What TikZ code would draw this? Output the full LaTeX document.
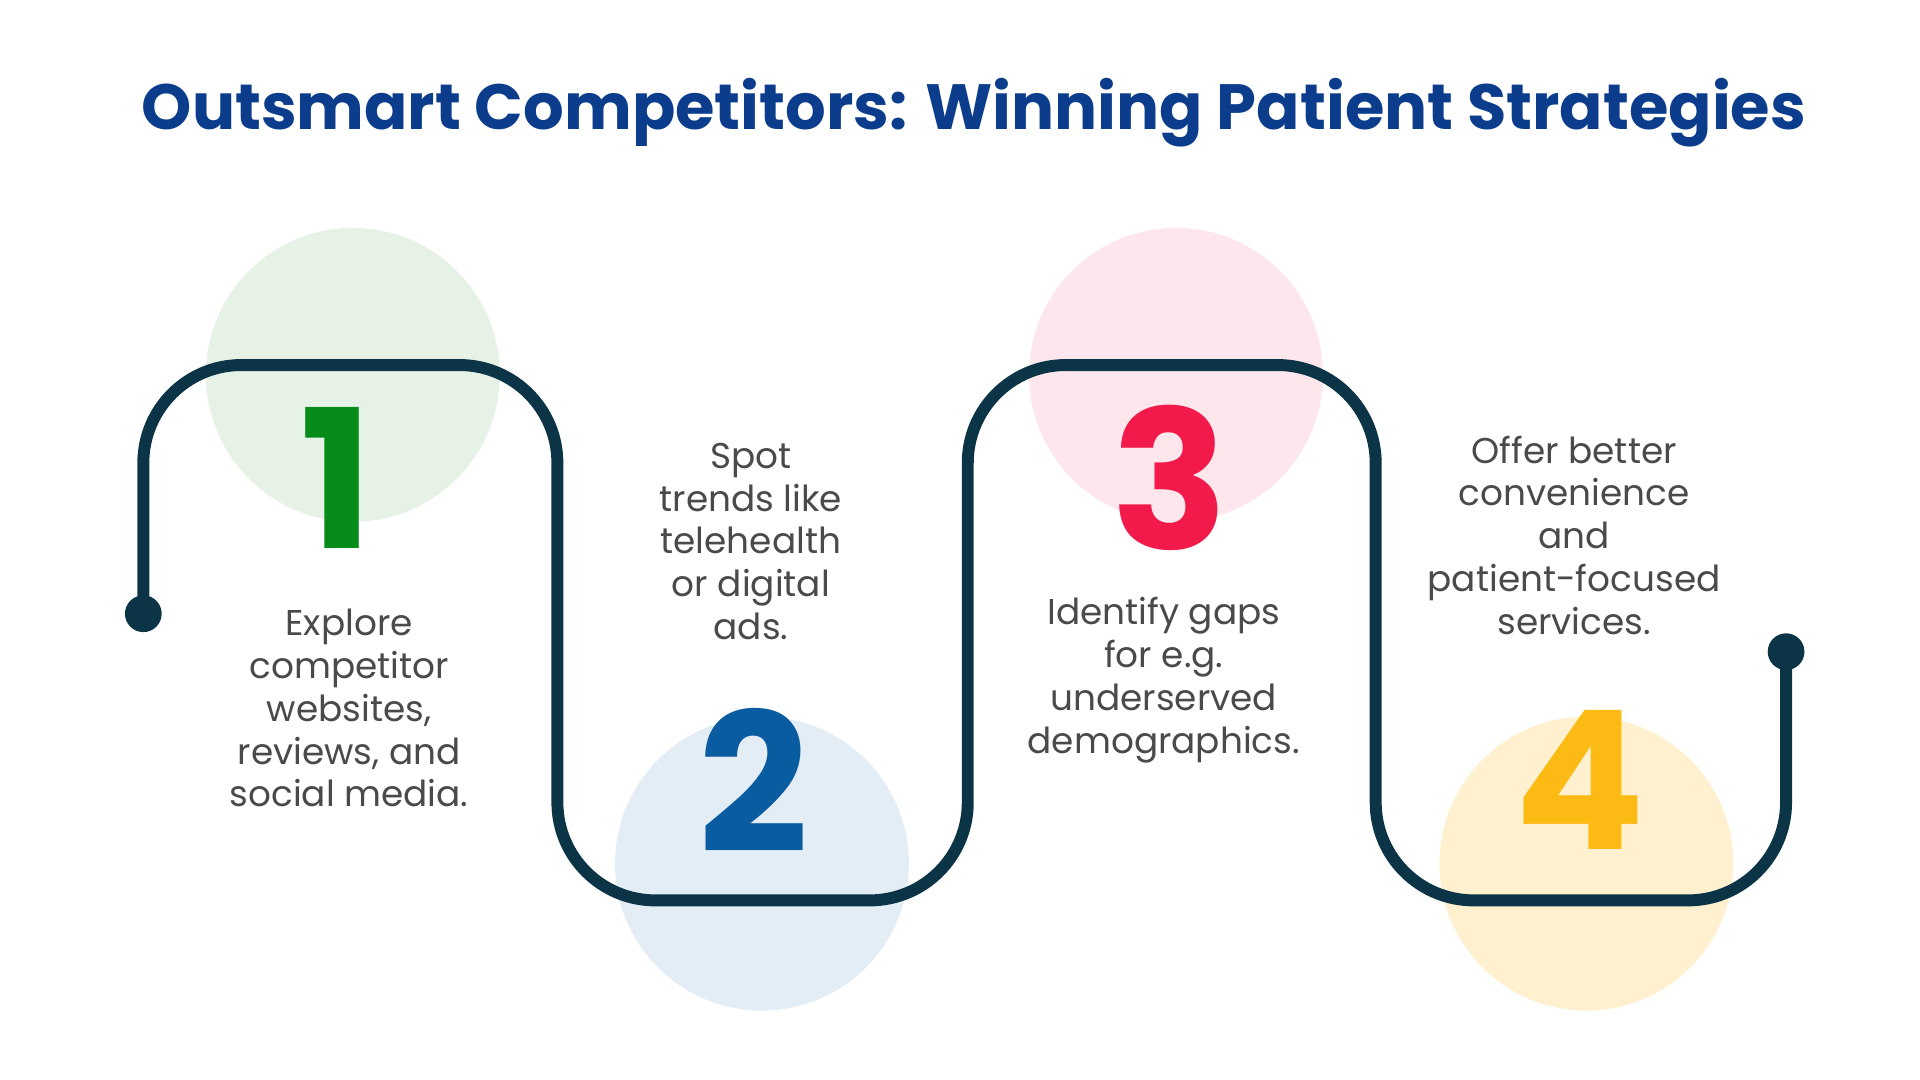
\documentclass[tikz,border=0pt]{standalone}
\usepackage{fontspec}
\setmainfont{Poppins}
\definecolor{titleblue}{HTML}{0B3D8C}
\definecolor{pathnavy}{HTML}{0B3447}
\definecolor{textgray}{HTML}{4A4A4A}
\definecolor{stepgreen}{HTML}{058C1A}
\definecolor{stepblue}{HTML}{0A5CA0}
\definecolor{stepred}{HTML}{F21A4B}
\definecolor{stepyellow}{HTML}{FBBA14}
\definecolor{softgreen}{HTML}{E6F2E6}
\definecolor{softblue}{HTML}{E3EDF6}
\definecolor{softpink}{HTML}{FDE6EC}
\definecolor{softyellow}{HTML}{FFF1D0}
\tikzset{
  blob/.style={circle, minimum size=2.94cm, inner sep=0pt},
  bignum/.style={font=\fontsize{55}{55}\selectfont\bfseries},
  steptext/.style={align=center, text=textgray, font=\fontsize{10.2}{12.2}\selectfont},
}
\begin{document}
\begin{tikzpicture}[x=0.01225cm, y=-0.01225cm]
  \useasboundingbox (0,0) rectangle (1567.35,881.6);
  \node[text=titleblue, font=\fontsize{18.2}{22}\selectfont\bfseries] (title) at (795,92)
    {Outsmart Competitors: Winning Patient Strategies};

  % background circles
  \node[blob, fill=softgreen]  (c1) at (288,306) {};
  \node[blob, fill=softblue]   (c2) at (622,705) {};
  \node[blob, fill=softpink]   (c3) at (960,306) {};
  \node[blob, fill=softyellow] (c4) at (1295,705) {};

  % winding line
  \coordinate (start) at (117,501);
  \coordinate (stop)  at (1458,532);
  \draw[pathnavy, line width=3.4pt, rounded corners=0.98cm]
    (start) -- (117,298) -- (455,298) -- (455,735) -- (790,735) -- (790,298)
    -- (1123,298) -- (1123,735) -- (1458,735) -- (stop);
  \fill[pathnavy] (start) circle (15);
  \fill[pathnavy] (stop)  circle (15);

  % numbers
  \node[bignum, text=stepgreen]  (n1) at (275,390) {1};
  \node[bignum, text=stepblue]   (n2) at (615,637) {2};
  \node[bignum, text=stepred]    (n3) at (955,390) {3};
  \node[bignum, text=stepyellow] (n4) at (1290,637) {4};

  % texts
  \node[steptext] (t1) at (285,578) {Explore\\competitor\\websites,\\reviews, and\\social media.};
  \node[steptext] (t2) at (613,442) {Spot\\trends like\\telehealth\\or digital\\ads.};
  \node[steptext] (t3) at (950,555) {Identify gaps\\for e.g.\\underserved\\demographics.};
  \node[steptext] (t4) at (1285,437) {Offer better\\convenience\\and\\patient-focused\\services.};
\end{tikzpicture}
\end{document}
